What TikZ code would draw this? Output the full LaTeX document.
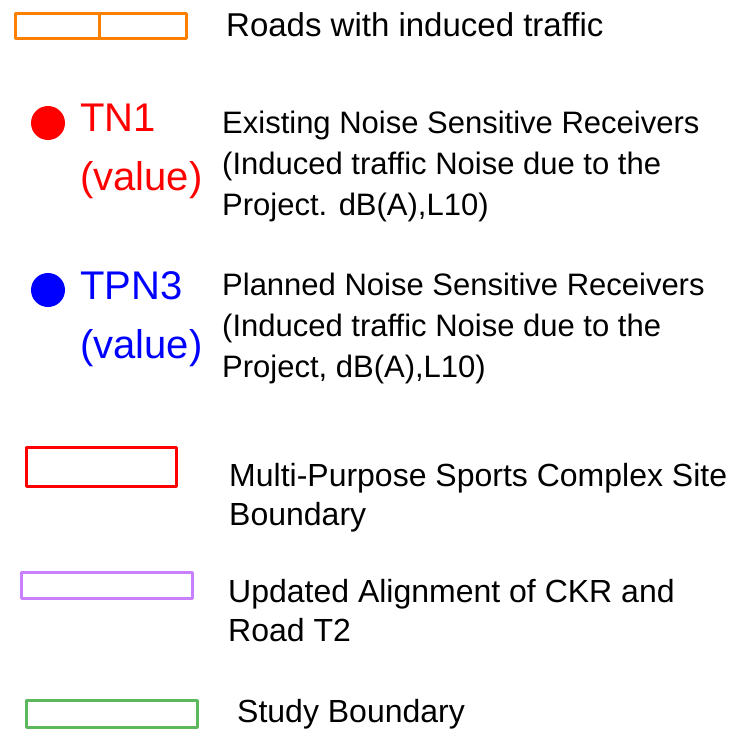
\documentclass[tikz,border=0pt]{standalone}
\usepackage{fontspec}
\setmainfont{Liberation Sans}
\usepackage{xcolor}
\definecolor{roadorange}{RGB}{255,128,0}
\definecolor{sitered}{RGB}{255,0,0}
\definecolor{ckrpurple}{RGB}{200,128,255}
\definecolor{studygreen}{RGB}{92,184,92}
\definecolor{plannedblue}{RGB}{0,0,255}

\begin{document}
\begin{tikzpicture}[x=1pt, y=-1pt,
    legtext/.style={anchor=base west, align=left, inner sep=0pt, font=\fontsize{32}{39}\selectfont},
    valtext/.style={anchor=base west, align=left, inner sep=0pt, font=\fontsize{40}{59}\selectfont},
    legbox/.style={line width=3pt, line join=round},
    recdot/.style={circle, inner sep=0pt, minimum size=34pt}]
        \useasboundingbox (0,0) rectangle (737,737);

        % 誘発交通の道路
        \draw[legbox, roadorange] (15,13) rectangle (186,38);
        \draw[legbox, roadorange] (99,13) -- (99,38);
        \node[legtext, font=\fontsize{33}{39}\selectfont] (roads) at (226,36) {Roads with induced traffic};

        % 既存の受音点（基準は最終行のベースライン）
        \node[recdot, fill=sitered] (tndot) at (48,123) {};
        \node[valtext, text=sitered] (tnval) at (80,190) {TN1\\(value)};
        \node[legtext, font=\fontsize{31}{41}\selectfont] (tntext) at (222,215) {Existing Noise Sensitive Receivers\\(Induced traffic Noise due to the\\Project. dB(A),L10)};

        % 計画の受音点
        \node[recdot, fill=plannedblue] (tpndot) at (48,290) {};
        \node[valtext, text=plannedblue] (tpnval) at (80,358) {TPN3\\(value)};
        \node[legtext, font=\fontsize{31}{41}\selectfont] (tpntext) at (222,377) {Planned Noise Sensitive Receivers\\(Induced traffic Noise due to the\\Project, dB(A),L10)};

        % 敷地境界
        \draw[legbox, sitered] (26,447) rectangle (176,486);
        \node[legtext] (sitetext) at (229,525) {Multi-Purpose Sports Complex Site\\Boundary};

        % CKR と Road T2
        \draw[legbox, ckrpurple] (21,572) rectangle (192,598);
        \node[legtext] (ckrtext) at (228,641) {Updated Alignment of CKR and\\Road T2};

        % 調査範囲
        \draw[legbox, studygreen] (26,700) rectangle (197,727);
        \node[legtext] (studytext) at (237,722) {Study Boundary};
\end{tikzpicture}
\end{document}
